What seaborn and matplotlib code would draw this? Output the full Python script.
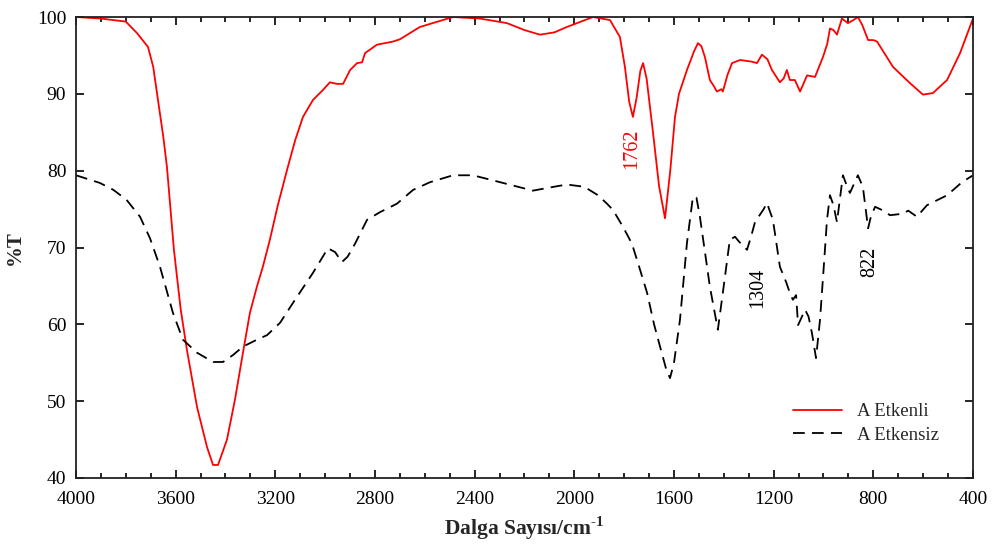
import numpy as np
import pandas as pd
import matplotlib
matplotlib.use("Agg")
import matplotlib.pyplot as plt
from matplotlib.ticker import MultipleLocator
import seaborn as sns

# ---- data ----
red_w = [4000, 3900, 3800, 3755, 3711, 3690, 3671, 3650, 3635, 3607, 3580, 3555, 3514, 3474,
         3450, 3430, 3394, 3362, 3330, 3302, 3274, 3250, 3222, 3190, 3153, 3120, 3089, 3049,
         3009, 2981, 2953, 2928, 2900, 2872, 2852, 2840, 2792, 2728, 2700, 2620, 2487, 2379,
         2270, 2200, 2138, 2080, 2030, 1925, 1857, 1817, 1797, 1780, 1765, 1750, 1735, 1724,
         1710, 1684, 1660, 1636, 1615, 1596, 1580, 1548, 1520, 1504, 1490, 1476, 1456, 1440,
         1428, 1410, 1404, 1385, 1367, 1335, 1290, 1267, 1247, 1225, 1207, 1175, 1160, 1147,
         1135, 1115, 1094, 1066, 1034, 1002, 985, 974, 960, 946, 926, 902, 880, 862, 845, 821,
         800, 785, 721, 653, 601, 561, 504, 452, 400]
red_t = [100, 99.8, 99.4, 97.9, 96.1, 93.5, 89.2, 84.5, 80.5, 69.7, 62, 56.7, 49.2, 44,
         41.7, 41.7, 45, 50.2, 56.3, 61.5, 64.9, 67.5, 71, 75.5, 80.1, 84, 87, 89.2,
         90.5, 91.5, 91.3, 91.3, 93.1, 94, 94.1, 95.3, 96.4, 96.8, 97.1, 98.7, 100, 99.8,
         99.2, 98.3, 97.7, 98, 98.7, 100, 99.6, 97.4, 93.5, 89, 87, 89.5, 93, 94,
         92, 84.9, 78, 73.8, 80, 87, 90, 93.1, 95.5, 96.6, 96.2, 94.8, 91.8, 91,
         90.3, 90.6, 90.3, 92.5, 94, 94.4, 94.2, 94, 95.1, 94.5, 93.1, 91.5, 92, 93.1,
         91.8, 91.8, 90.3, 92.4, 92.2, 94.8, 96.5, 98.5, 98.3, 97.7, 99.8, 99.2, 99.6, 100, 99, 97,
         97, 96.8, 93.5, 91.4, 89.9, 90.1, 91.8, 95.3, 99.8]

black_w = [4000, 3904, 3850, 3797, 3743, 3703, 3663, 3611, 3571, 3514, 3450, 3410, 3370, 3330,
           3280, 3233, 3181, 3129, 3049, 2989, 2960, 2933, 2910, 2880, 2832, 2780, 2712, 2647,
           2579, 2487, 2407, 2298, 2166, 2100, 2030, 1960, 1905, 1869, 1845, 1805, 1777, 1765,
           1740, 1708, 1680, 1656, 1630, 1616, 1600, 1576, 1548, 1524, 1510, 1496, 1456, 1424,
           1404, 1376, 1355, 1340, 1307, 1290, 1275, 1240, 1227, 1203, 1175, 1150, 1135, 1123,
           1110, 1102, 1074, 1060, 1046, 1030, 1014, 1000, 986, 974, 960, 946, 922, 906, 894,
           862, 842, 821, 810, 793, 760, 733, 681, 660, 625, 585, 504, 444, 400]
black_t = [79.4, 78.4, 77.5, 76.2, 74, 71.2, 67.5, 61.5, 58, 56.3, 55.1, 55.1, 56, 57.1,
           57.9, 58.6, 60.2, 62.8, 66.7, 69.9, 69.4, 68.1, 68.8, 70.5, 73.6, 74.6, 75.7, 77.5,
           78.5, 79.4, 79.4, 78.5, 77.4, 77.8, 78.2, 77.9, 76.8, 75.7, 74.9, 72.7, 71, 70.1,
           67.5, 64.1, 60, 57.1, 54, 53, 55, 60.6, 70.6, 76.6, 76.5, 74, 64.9, 59.3,
           64.1, 71, 71.4, 70.8, 69.7, 71.5, 73.3, 75, 75.8, 73.6, 67.5, 65.5, 64.1, 63.2,
           63.8, 59.9, 61.9, 61, 58.8, 55.6, 60.6, 67, 73.6, 76.8, 75.5, 73.3, 79.4, 78, 77.1,
           79.4, 77.9, 72.5, 74, 75.3, 74.8, 74.2, 74.4, 74.8, 74, 75.5, 76.8, 78.5, 79.4]

series_names = ["A Etkenli", "A Etkensiz"]
annot_text = ["1762", "1304", "822"]
annot_w = [1769, 1265, 813]
annot_t = [82.9, 64.7, 68.1]
annot_col = ["red", "black", "black"]

x_ticks = [4000, 3600, 3200, 2800, 2400, 2000, 1600, 1200, 800, 400]
y_ticks = [40, 50, 60, 70, 80, 90, 100]

df = pd.DataFrame({
    "w": red_w + black_w,
    "T": red_t + black_t,
    "series": [series_names[0]] * len(red_w) + [series_names[1]] * len(black_w),
})

# ---- style ----
sns.set_style("ticks")
plt.rcParams["font.family"] = ["Liberation Serif", "DejaVu Serif"]
plt.rcParams["mathtext.fontset"] = "custom"
plt.rcParams["mathtext.rm"] = "Liberation Serif"
plt.rcParams["mathtext.bf"] = "Liberation Serif:bold"

fig = plt.figure(figsize=(9.95, 5.45), dpi=100)
ax = fig.add_axes([76 / 995, 1 - 478 / 545, (973 - 76) / 995, (478 - 17) / 545])

sns.lineplot(data=df, x="w", y="T", hue="series", style="series",
             hue_order=series_names, style_order=series_names,
             palette={series_names[0]: "#ff0000", series_names[1]: "black"},
             dashes={series_names[0]: "", series_names[1]: (6.5, 4)},
             estimator=None, sort=False, linewidth=1.3, ax=ax)

ax.set_xlim(4000, 400)
ax.set_ylim(40, 100)
ax.set_xticks(x_ticks)
ax.set_yticks(y_ticks)
ax.xaxis.set_minor_locator(MultipleLocator(100))
ax.tick_params(axis="both", which="both", direction="in", top=True, right=True,
               labelsize=14, width=1.2, colors="black")
ax.tick_params(axis="both", which="major", length=6)
ax.tick_params(axis="x", which="major", pad=9)
ax.tick_params(axis="y", which="major", pad=7)
ax.tick_params(axis="x", which="minor", length=3.5)
for s in ax.spines.values():
    s.set_linewidth(1.3)
    s.set_color("#222222")

ax.set_xlabel("Dalga Sayısı/cm$^{\\mathbf{\u2010}\\mathbf{1}}$", fontsize=15.5,
              fontweight="bold", labelpad=5)
ax.set_ylabel("%T", fontsize=15, fontweight="bold", labelpad=9)

for t, w, v, c in zip(annot_text, annot_w, annot_t, annot_col):
    ax.text(w, v, t, rotation=90, color=c, fontsize=14.5, ha="center", va="center")

leg = ax.legend(loc="upper left", bbox_to_anchor=((793 - 76) / 897, (478 - 403) / 461),
                frameon=False, fontsize=13.5, handlelength=2.6, handletextpad=0.8,
                borderaxespad=0, borderpad=0, labelspacing=0.35)

fig.savefig("out.png", dpi=100)
